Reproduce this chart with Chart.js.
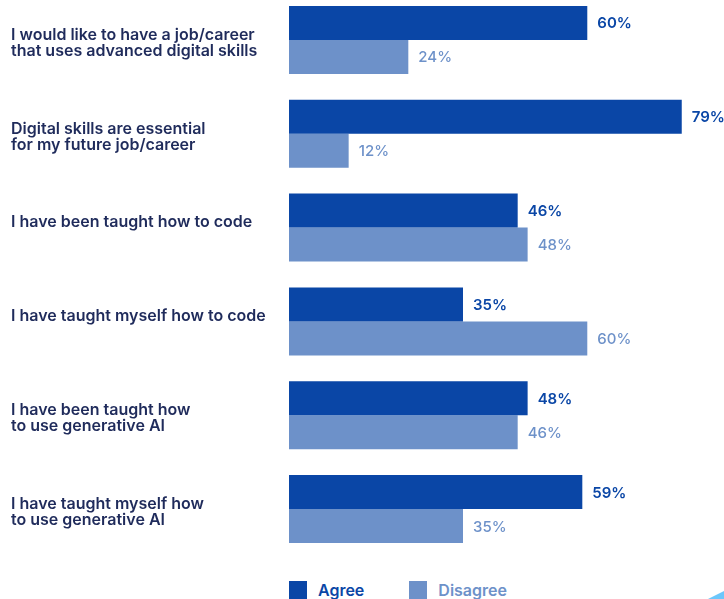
<!DOCTYPE html>
<html>
<head>
<meta charset="utf-8">
<script src="https://cdn.jsdelivr.net/npm/chart.js@4/dist/chart.umd.min.js"></script>
<style>
    html, body { margin: 0; padding: 0; background: #fff; }
    body { width: 724px; height: 599px; position: relative; overflow: hidden; font-family: Inter, "Noto Sans", sans-serif; }
    #wrap { position: absolute; left: 0; top: -23px; width: 724px; height: 595px; }
    #legend { position: absolute; left: 289px; top: 580px; display: flex; }
    .item { display: flex; align-items: center; margin-right: 45px; font-size: 16px; font-weight: 600; }
    .box { width: 18px; height: 18px; margin-right: 11px; }
    #corner { position: absolute; right: 0; bottom: 0; width: 16px; height: 8px; background: #6cc7fb;
              clip-path: polygon(0 100%, 100% 0, 100% 100%); }
</style>
</head>
<body>
<div id="wrap"><canvas id="barChart"></canvas></div>
<div id="legend"></div>
<div id="corner"></div>
<script>
const categories = [
    ["I would like to have a job/career", "that uses advanced digital skills"],
    ["Digital skills are essential", "for my future job/career"],
    "I have been taught how to code",
    "I have taught myself how to code",
    ["I have been taught how", "to use generative AI"],
    ["I have taught myself how", "to use generative AI"]
];
const agree = [60, 79, 46, 35, 48, 59];
const disagree = [24, 12, 48, 60, 46, 35];

const agreeColor = "#0a46a6";
const disagreeColor = "#6d91c9";
const labelColor = "#1f2b5b";

// Percent labels just past the end of each bar
const valueLabels = {
    id: "valueLabels",
    afterDatasetsDraw(chart) {
        const ctx = chart.ctx;
        ctx.save();
        ctx.textAlign = "left";
        ctx.textBaseline = "middle";
        chart.data.datasets.forEach((ds, i) => {
            const meta = chart.getDatasetMeta(i);
            ctx.fillStyle = ds.backgroundColor;
            ctx.font = (i === 0 ? "600" : "500") + " 15px Inter, sans-serif";
            meta.data.forEach((bar, j) => {
                ctx.fillText(ds.data[j] + "%", bar.x + 10, bar.y + 1);
            });
        });
        ctx.restore();
    }
};

const chart = new Chart(document.getElementById("barChart"), {
    type: "bar",
    data: {
        labels: categories,
        datasets: [
            { label: "Agree", data: agree, backgroundColor: agreeColor },
            { label: "Disagree", data: disagree, backgroundColor: disagreeColor }
        ]
    },
    options: {
        indexAxis: "y",
        responsive: true,
        maintainAspectRatio: false,
        animation: false,
        layout: { padding: { left: 11, right: 0, top: 0, bottom: 0 } },
        datasets: { bar: { categoryPercentage: 0.725, barPercentage: 1 } },
        plugins: { legend: { display: false }, tooltip: { enabled: false } },
        scales: {
            x: { display: false, min: 0, max: 87.5 },
            y: {
                grid: { display: false },
                border: { display: false },
                ticks: {
                    crossAlign: "far",
                    color: labelColor,
                    font: { family: "Inter", size: 16, weight: "600", lineHeight: 1 },
                    padding: 0,
                    labelOffset: 3,
                    // one-line labels sit on the first line, like the two-line ones
                    callback(value) {
                        const l = this.getLabelForValue(value);
                        return Array.isArray(l) ? l : [l, ""];
                    }
                },
                afterFit(scale) { scale.width = 278; }
            }
        }
    },
    plugins: [valueLabels]
});

// Legend built from the datasets
const legend = document.getElementById("legend");
chart.data.datasets.forEach(ds => {
    const item = document.createElement("div");
    item.className = "item";
    item.style.color = ds.backgroundColor;
    item.innerHTML = `<span class="box" style="background:${ds.backgroundColor}"></span>${ds.label}`;
    legend.appendChild(item);
});
</script>
</body>
</html>
